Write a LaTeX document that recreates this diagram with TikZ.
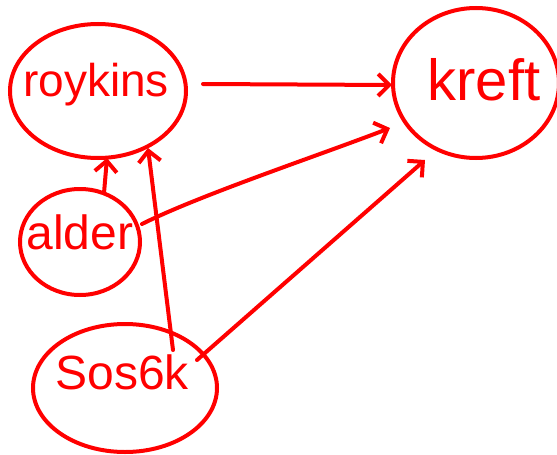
\documentclass[tikz,border=0pt]{standalone}
\usepackage{fontspec}
\setmainfont{Liberation Sans}
\usetikzlibrary{arrows.meta,shapes.geometric}
\definecolor{ink}{RGB}{255,0,0}
\begin{document}
\begin{tikzpicture}[x=1pt,y=-1pt,
  varbox/.style={draw=ink, line width=4pt, ellipse, text=ink, inner sep=0pt},
  conn/.style={draw=ink, line width=4pt, line cap=round, -{Straight Barb[length=11pt,width=22pt,line width=4pt]}}]
\useasboundingbox (0,0) rectangle (557,455);
\node[varbox, minimum width=176pt, minimum height=134pt] (r) at (98,91) {};
\node[text=ink, font=\fontsize{46}{48}\selectfont] (rt) at (96,85) {roykins};
\node[varbox, minimum width=166pt, minimum height=150pt] (k) at (476,83) {};
\node[text=ink, font=\fontsize{58}{60}\selectfont] (kt) at (484,80) {kreft};
\node[varbox, minimum width=120pt, minimum height=106pt] (a) at (80,242) {};
\node[text=ink, font=\fontsize{48}{50}\selectfont] (at) at (80,232) {alder};
\node[varbox, minimum width=184pt, minimum height=128pt] (s) at (125,388) {};
\node[text=ink, font=\fontsize{48}{50}\selectfont] (st) at (122,372) {Sos6k};
\draw[conn] ([shift={(105,-7)}]r.center) -- ([shift={(-84,2)}]k.center);
\draw[conn] ([shift={(24,-49)}]a.center) -- ([shift={(9,67)}]r.center);
\draw[conn] ([shift={(62,-18)}]a.center) .. controls (200,195) and (320,155) .. ([shift={(-86,45)}]k.center);
\draw[conn] ([shift={(48,-38)}]s.center) -- ([shift={(50,57)}]r.center);
\draw[conn] ([shift={(72,-28)}]s.center) -- ([shift={(-51,77)}]k.center);
\end{tikzpicture}
\end{document}
